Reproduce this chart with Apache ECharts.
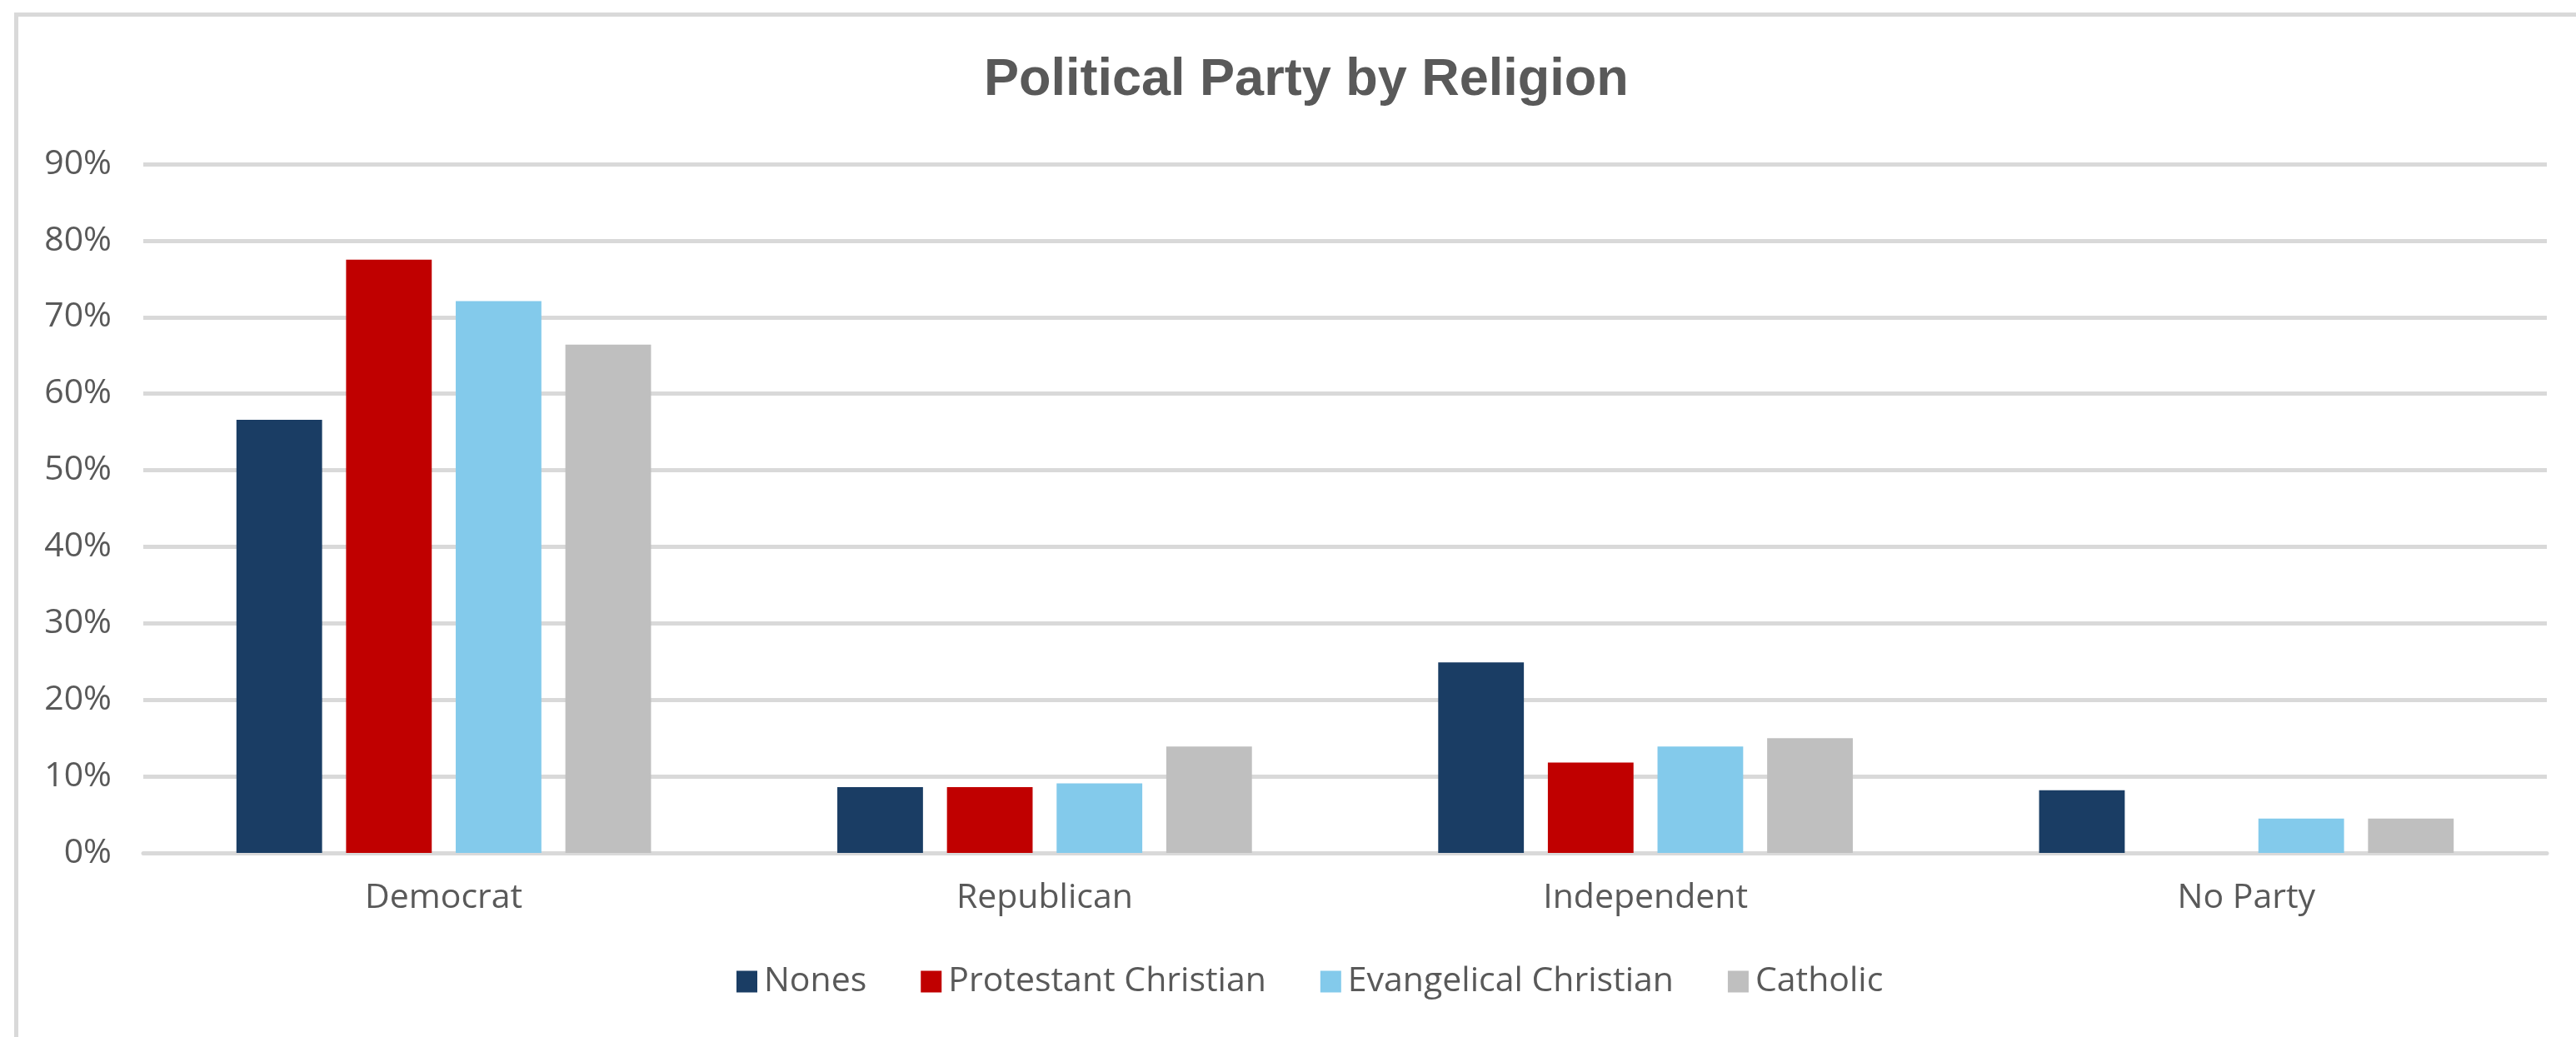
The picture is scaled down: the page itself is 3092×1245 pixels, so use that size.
<!DOCTYPE html>
<html>
<head>
<meta charset="utf-8">
<script src="https://cdn.jsdelivr.net/npm/echarts@6/dist/echarts.min.js"></script>
<style>
html,body{margin:0;padding:0;background:#fff;}
#chart{width:3092px;height:1245px;}
</style>
</head>
<body>
<div id="chart"></div>
<script>
const categories = ['Democrat', 'Republican', 'Independent', 'No Party'];
const seriesNames = ['Nones', 'Protestant Christian', 'Evangelical Christian', 'Catholic'];
const nones = [56.6, 8.6, 24.9, 8.2];
const protestant = [77.5, 8.6, 11.8, 0];
const evangelical = [72.1, 9.1, 13.9, 4.5];
const catholic = [66.4, 13.9, 15.0, 4.5];
const yTicks = { min: 0, max: 90, interval: 10 };
const colors = ['#1a3d64', '#c00000', '#83caeb', '#bfbfbf'];

const values = [nones, protestant, evangelical, catholic];
const chart = echarts.init(document.getElementById('chart'));
chart.setOption({
  animation: false,
  backgroundColor: '#ffffff',
  graphic: [{
    type: 'rect',
    shape: { x: 19.5, y: 17.5, width: 6000, height: 6000 },
    style: { fill: 'none', stroke: '#d9d9d9', lineWidth: 5 },
    silent: true
  }],
  title: {
    text: 'Political Party by Religion',
    left: 1176,
    top: 60,
    textStyle: { fontFamily: 'Liberation Sans', fontWeight: 'bold', fontSize: 63, color: '#595959' }
  },
  legend: {
    data: seriesNames,
    left: 879,
    top: 1153,
    itemWidth: 25,
    itemHeight: 26,
    itemGap: 65,
    icon: 'rect',
    textStyle: { fontFamily: 'Open Sans', fontSize: 41, color: '#595959', padding: [0, 0, 0, 3] }
  },
  grid: { left: 172, right: 35, top: 197, bottom: 221, containLabel: false },
  xAxis: {
    type: 'category',
    data: categories,
    axisLine: { show: true, lineStyle: { color: '#d9d9d9', width: 5 } },
    axisTick: { show: false },
    axisLabel: { fontFamily: 'Open Sans', fontSize: 41, color: '#595959', margin: 34 }
  },
  yAxis: {
    type: 'value',
    min: yTicks.min,
    max: yTicks.max,
    interval: yTicks.interval,
    axisLine: { show: false },
    axisTick: { show: false },
    splitLine: { lineStyle: { color: '#d9d9d9', width: 5 } },
    axisLabel: { formatter: '{value}%', fontFamily: 'Open Sans', fontSize: 41, color: '#595959', margin: 38 }
  },
  series: seriesNames.map((name, i) => ({
    name: name,
    type: 'bar',
    data: values[i],
    itemStyle: { color: colors[i] },
    barGap: '28%',
    barCategoryGap: '31%'
  }))
});
</script>
</body>
</html>
